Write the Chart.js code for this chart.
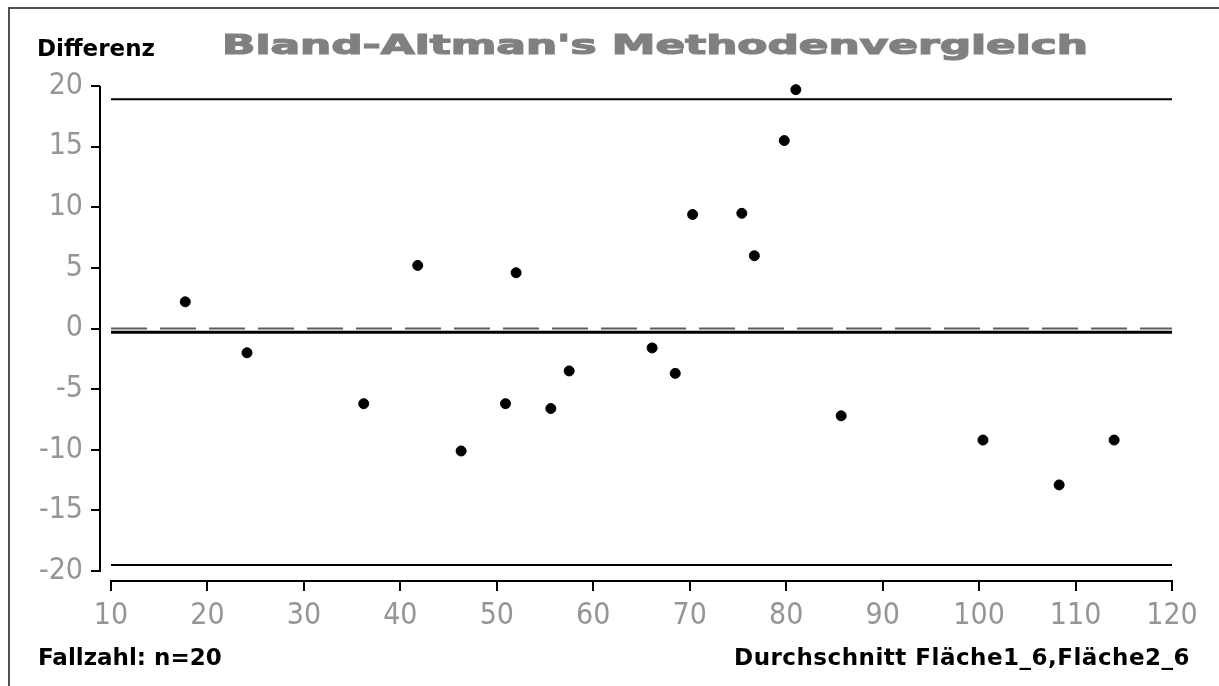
<!DOCTYPE html>
<html>
<head>
<meta charset="utf-8">
<script src="https://cdn.jsdelivr.net/npm/chart.js@4.4.1/dist/chart.umd.min.js"></script>
<style>
  html, body { margin: 0; padding: 0; background: #ffffff; }
  #wrap { width: 1219px; height: 686px; position: relative; }
  canvas { display: block; }
</style>
</head>
<body>
<div id="wrap"><canvas id="c" width="1219" height="686"></canvas></div>
<script>
// ---- data ----
const meanValues = [17.7, 24.1, 36.2, 41.8, 46.3, 50.9, 52.0, 55.6, 57.5, 66.1,
                    68.5, 70.3, 75.4, 76.7, 79.8, 81.0, 85.7, 100.4, 108.3, 114.0];
const diffValues = [2.2, -2.0, -6.2, 5.2, -10.1, -6.2, 4.6, -6.6, -3.5, -1.6,
                    -3.7, 9.4, 9.5, 6.0, 15.5, 19.7, -7.2, -9.2, -12.9, -9.2];
const upperLimit = 18.9;
const lowerLimit = -19.5;
const meanDiff = -0.3;
const zeroLine = 0;
const lineRange = [10, 120];
const xTickValues = [10, 20, 30, 40, 50, 60, 70, 80, 90, 100, 110, 120];
const yTickValues = [-20, -15, -10, -5, 0, 5, 10, 15, 20];
const titleText = "Bland-Altman's Methodenvergleich";
const yLabelText = "Differenz";
const countText = "Fallzahl: n=20";
const xLabelText = "Durchschnitt Fläche1_6,Fläche2_6";

const points = meanValues.map((x, i) => ({ x: x, y: diffValues[i] }));
const hLine = v => lineRange.map(x => ({ x: x, y: v }));

const tickFont = { family: '"Liberation Sans Narrow", "DejaVu Sans Condensed", "Liberation Sans", sans-serif', size: 30, weight: 'normal' };
const tickColor = '#959595';

const decorPlugin = {
  id: 'decor',
  beforeDraw(chart) {
    const ctx = chart.ctx;
    ctx.save();
    ctx.fillStyle = '#ffffff';
    ctx.fillRect(0, 0, chart.width, chart.height);
    ctx.restore();
  },
  afterDraw(chart) {
    const ctx = chart.ctx;
    const xs = chart.scales.x, ys = chart.scales.y;
    ctx.save();
    // frame (left + top)
    ctx.strokeStyle = '#505050';
    ctx.lineWidth = 2;
    ctx.beginPath();
    ctx.moveTo(9, 686); ctx.lineTo(9, 8); ctx.lineTo(1219, 8);
    ctx.stroke();
    // axis lines
    ctx.strokeStyle = '#000';
    ctx.lineWidth = 2;
    ctx.beginPath();
    const ax = Math.round(chart.chartArea.left);
    ctx.moveTo(ax, Math.round(ys.getPixelForValue(yTickValues[yTickValues.length - 1])));
    ctx.lineTo(ax, Math.round(ys.getPixelForValue(yTickValues[0])) + 1);
    const ay = Math.round(chart.chartArea.bottom);
    ctx.moveTo(Math.round(xs.getPixelForValue(xTickValues[0])) - 1, ay);
    ctx.lineTo(Math.round(xs.getPixelForValue(xTickValues[xTickValues.length - 1])) + 1, ay);
    ctx.stroke();

    // title (stretched wide, heavy)
    ctx.fillStyle = '#808080';
    ctx.strokeStyle = '#808080';
    ctx.lineWidth = 1.2;
    ctx.font = 'bold 26px "DejaVu Sans"';
    ctx.textBaseline = 'alphabetic';
    ctx.textAlign = 'left';
    const w = ctx.measureText(titleText).width;
    ctx.save();
    ctx.translate(222, 54);
    ctx.scale(866 / w, 1);
    ctx.fillText(titleText, 0, 0);
    ctx.strokeText(titleText, 0, 0);
    ctx.restore();

    // corner labels
    ctx.fillStyle = '#000';
    ctx.font = 'bold 23px "DejaVu Sans"';
    ctx.textAlign = 'left';
    ctx.fillText(yLabelText, 37, 56);
    ctx.fillText(countText, 38, 665);
    ctx.textAlign = 'right';
    try { ctx.letterSpacing = '0.5px'; } catch (e) {}
    ctx.fillText(xLabelText, 1190, 665);
    try { ctx.letterSpacing = '0px'; } catch (e) {}
    ctx.restore();
  }
};

new Chart(document.getElementById('c'), {
  type: 'scatter',
  data: {
    datasets: [
      {
        label: 'Differenz',
        data: points,
        backgroundColor: '#000',
        borderColor: '#000',
        pointRadius: 5,
        pointHoverRadius: 5,
        showLine: false,
        clip: false,
        order: 0
      },
      {
        label: 'upper',
        data: hLine(upperLimit),
        showLine: true, borderColor: '#000', borderWidth: 2,
        pointRadius: 0, order: 1
      },
      {
        label: 'lower',
        data: hLine(lowerLimit),
        showLine: true, borderColor: '#000', borderWidth: 2,
        pointRadius: 0, order: 1
      },
      {
        label: 'zero',
        data: hLine(zeroLine),
        showLine: true, borderColor: '#5e5e5e', borderWidth: 2,
        borderDash: [36, 13], borderCapStyle: 'butt',
        pointRadius: 0, order: 2
      },
      {
        label: 'mean',
        data: hLine(meanDiff),
        showLine: true, borderColor: '#000', borderWidth: 3,
        pointRadius: 0, order: 1
      }
    ]
  },
  options: {
    responsive: false,
    animation: false,
    devicePixelRatio: 1,
    layout: { padding: { top: 86, right: 47, bottom: 0, left: 0 } },
    plugins: {
      legend: { display: false },
      tooltip: { enabled: false },
      title: { display: false }
    },
    scales: {
      x: {
        type: 'linear',
        min: 10 - 11 / 9.645,
        max: 120,
        afterBuildTicks: s => { s.ticks = xTickValues.map(v => ({ value: v })); },
        afterFit: s => { s.height = 105; },
        grid: { display: true, drawOnChartArea: false, drawTicks: true, tickLength: 10, color: '#000', lineWidth: 2 },
        border: { display: false },
        ticks: { font: tickFont, color: tickColor, padding: 7, maxRotation: 0, autoSkip: false }
      },
      y: {
        type: 'linear',
        min: -20 - 10 / 12.125,
        max: 20,
        afterBuildTicks: s => { s.ticks = yTickValues.map(v => ({ value: v })); },
        afterFit: s => { s.width = 100; },
        grid: { display: true, drawOnChartArea: false, drawTicks: true, tickLength: 9, color: '#000', lineWidth: 2 },
        border: { display: false },
        ticks: { font: tickFont, color: tickColor, padding: 8, autoSkip: false }
      }
    }
  },
  plugins: [decorPlugin]
});
</script>
</body>
</html>
